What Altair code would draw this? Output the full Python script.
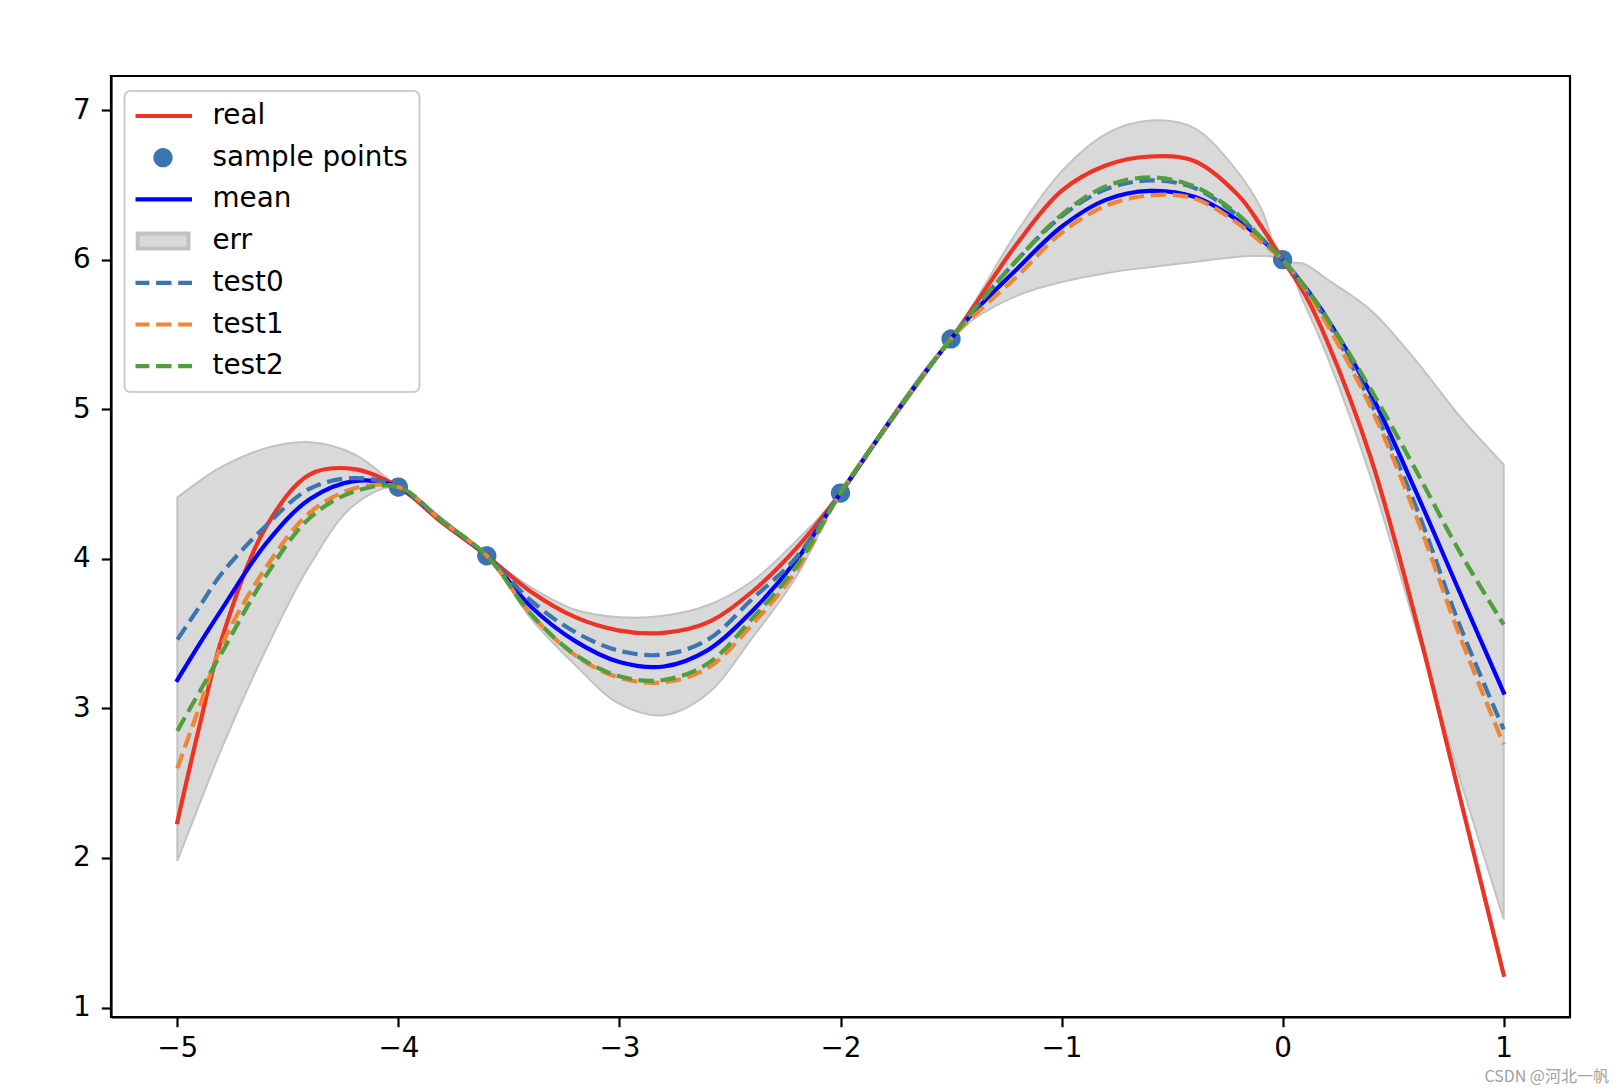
import altair as alt
import pandas as pd

# ---------------- data ----------------
xs = [-5.0, -4.9, -4.8, -4.6, -4.4, -4.2, -4.0, -3.8, -3.6, -3.4, -3.2, -3.0, -2.8, -2.6,
      -2.4, -2.2, -2.0, -1.8, -1.6, -1.5, -1.4, -1.2, -1.0, -0.8, -0.6, -0.4, -0.2, -0.1,
      0.0, 0.1, 0.2, 0.4, 0.6, 0.8, 1.0]
real = [2.24, 2.88, 3.46, 4.21, 4.565, 4.60, 4.48, 4.24, 4.02, 3.78, 3.61, 3.52, 3.505, 3.575,
        3.78, 4.07, 4.44, 4.87, 5.28, 5.47, 5.68, 6.11, 6.46, 6.63, 6.69, 6.66, 6.43, 6.23,
        6.00, 5.77, 5.46, 4.67, 3.61, 2.42, 1.22]
mean = [3.19, 3.43, 3.66, 4.10, 4.40, 4.52, 4.48, 4.25, 4.02, 3.68, 3.45, 3.31, 3.28, 3.39,
        3.65, 3.99, 4.44, 4.87, 5.28, 5.47, 5.645, 5.94, 6.22, 6.40, 6.46, 6.42, 6.26, 6.14,
        6.00, 5.82, 5.61, 5.10, 4.46, 3.78, 3.105]
test0 = [3.46, 3.68, 3.90, 4.22, 4.47, 4.54, 4.48, 4.25, 4.02, 3.72, 3.51, 3.385, 3.36, 3.46,
         3.73, 4.01, 4.44, 4.87, 5.28, 5.47, 5.66, 6.00, 6.29, 6.47, 6.53, 6.48, 6.29, 6.15,
         6.00, 5.81, 5.59, 5.04, 4.36, 3.56, 2.86]
test1 = [2.60, 3.01, 3.42, 3.94, 4.31, 4.47, 4.48, 4.25, 4.02, 3.63, 3.355, 3.205, 3.175, 3.27,
         3.56, 3.92, 4.44, 4.87, 5.28, 5.47, 5.62, 5.89, 6.18, 6.36, 6.43, 6.41, 6.24, 6.12,
         6.00, 5.81, 5.57, 5.01, 4.30, 3.49, 2.76]
test2 = [2.85, 3.11, 3.37, 3.885, 4.275, 4.45, 4.48, 4.25, 4.02, 3.63, 3.36, 3.215, 3.19, 3.30,
         3.60, 3.95, 4.44, 4.87, 5.28, 5.47, 5.66, 6.00, 6.30, 6.49, 6.55, 6.49, 6.30, 6.15,
         6.00, 5.82, 5.61, 5.13, 4.60, 4.05, 3.56]
err_upper = [4.41, 4.52, 4.615, 4.74, 4.78, 4.70, 4.48, 4.27, 4.02, 3.81, 3.66, 3.61, 3.62, 3.69,
             3.85, 4.12, 4.44, 4.89, 5.30, 5.47, 5.70, 6.19, 6.59, 6.84, 6.93, 6.88, 6.58, 6.35,
             6.00, 5.97, 5.87, 5.66, 5.33, 4.955, 4.63]
err_lower = [1.98, 2.36, 2.73, 3.39, 3.96, 4.36, 4.48, 4.23, 4.02, 3.60, 3.29, 3.03, 2.955, 3.10,
             3.47, 3.88, 4.44, 4.85, 5.26, 5.47, 5.60, 5.76, 5.85, 5.91, 5.95, 5.985, 6.02, 6.025,
             6.00, 5.70, 5.36, 4.54, 3.55, 2.54, 1.59]
sample_x = [-4.0, -3.6, -2.0, -1.5, 0.0]
sample_y = [4.48, 4.02, 4.44, 5.47, 6.00]

x_ticks = [-5, -4, -3, -2, -1, 0, 1]
y_ticks = [1, 2, 3, 4, 5, 6, 7]
legend_names = ["real", "sample points", "mean", "err", "test0", "test1", "test2"]

# ---------------- styles ----------------
C_RED = "#EE3224"
C_PTS = "#3A75AF"
C_MEAN = "#0000FF"
C_T0 = "#3A75AF"
C_T1 = "#EF8636"
C_T2 = "#519E3E"
C_ERR_FILL = "#D9D9D9"
C_ERR_EDGE = "#C2C2C2"
LW = 4.2
DASH = [15.4, 6.7]
FONT = "DejaVu Sans"
FS = 27.8
INTERP = "catmull-rom"

curves = pd.DataFrame({"x": xs, "real": real, "mean": mean, "test0": test0,
                       "test1": test1, "test2": test2,
                       "upper": err_upper, "lower": err_lower})
pts = pd.DataFrame({"x": sample_x, "y": sample_y,
                    "series": ["sample points"] * len(sample_x)})

xscale = alt.Scale(domain=[-5.3, 1.3], nice=False, zero=False)
yscale = alt.Scale(domain=[0.937, 7.228], nice=False, zero=False)
xaxis = alt.Axis(values=x_ticks, format="d", title=None, grid=False, labelFlush=False)
yaxis = alt.Axis(values=y_ticks, format="d", title=None, grid=False, labelFlush=False,
                 labelPadding=11)


def X():
    return alt.X("x:Q", scale=xscale, axis=xaxis)


def Y(field):
    return alt.Y(f"{field}:Q", scale=yscale, axis=yaxis)


base = alt.Chart(curves)

band = base.mark_area(fill=C_ERR_FILL, stroke=C_ERR_EDGE, strokeWidth=2.0,
                      interpolate=INTERP).encode(x=X(), y=Y("upper"), y2="lower:Q")


def line(field, color, dashed):
    kw = dict(color=color, strokeWidth=LW, interpolate=INTERP)
    if dashed:
        kw["strokeDash"] = DASH
        kw["strokeCap"] = "butt"
    else:
        kw["strokeCap"] = "square"
    return base.mark_line(**kw).encode(x=X(), y=Y(field))


# legend symbols (unit paths, scaled by symbol size)
P_LINE = "M-1,0L1,0"
P_CIRC = "M-0.26,0A0.26,0.26 0 1,0 0.26,0A0.26,0.26 0 1,0 -0.26,0Z"
P_RECT = "M-0.876,-0.255L0.876,-0.255L0.876,0.255L-0.876,0.255Z"
SYM = 3364

leg = alt.Legend(title=None, orient="none", legendX=13.5, legendY=15,
                 labelFont=FONT, labelFontSize=FS, labelColor="black", labelLimit=600,
                 symbolSize=SYM, symbolStrokeWidth=LW, clipHeight=28, symbolOffset=-4,
                 rowPadding=13.7, labelOffset=18, padding=11,
                 fillColor="rgba(255,255,255,0.8)", strokeColor="#CCCCCC",
                 cornerRadius=6, symbolLimit=0)

shape_range = [P_LINE, P_CIRC, P_LINE, P_RECT, P_LINE, P_LINE, P_LINE]
fill_range = ["transparent", C_PTS, "transparent", C_ERR_FILL,
              "transparent", "transparent", "transparent"]
stroke_range = [C_RED, C_PTS, C_MEAN, C_ERR_EDGE, C_T0, C_T1, C_T2]
dash_range = [[1, 0], [1, 0], [1, 0], [1, 0], DASH, DASH, DASH]

points = alt.Chart(pts).mark_point(filled=True, size=SYM, strokeWidth=LW, opacity=1).encode(
    x=X(), y=Y("y"),
    shape=alt.Shape("series:N", scale=alt.Scale(domain=legend_names, range=shape_range), legend=leg),
    fill=alt.Fill("series:N", scale=alt.Scale(domain=legend_names, range=fill_range), legend=leg),
    stroke=alt.Stroke("series:N", scale=alt.Scale(domain=legend_names, range=stroke_range), legend=leg),
    strokeDash=alt.StrokeDash("series:N", scale=alt.Scale(domain=legend_names, range=dash_range), legend=leg),
)

chart = alt.layer(
    band,
    points,
    line("real", C_RED, False),
    line("mean", C_MEAN, False),
    line("test0", C_T0, True),
    line("test1", C_T1, True),
    line("test2", C_T2, True),
).properties(
    width=1459, height=941,
    autosize=alt.AutoSizeParams(type="none"),
    padding={"left": 103, "top": 68, "right": 40, "bottom": 70},
    title=alt.TitleParams("CSDN @河北一帆", orient="bottom", anchor="end",
                          font="Noto Sans CJK SC", fontSize=16, fontWeight="normal",
                          color="#A0A0A0", dx=39, offset=6),
).configure_axis(
    domainColor="black", domainWidth=2.2, tickColor="black", tickWidth=2.2, tickSize=9.7,
    labelFont=FONT, labelFontSize=FS, labelColor="black", labelPadding=8,
).configure_view(
    stroke="black", strokeWidth=2.2
).configure_legend(
    strokeWidth=2
)

chart.save("out.html", embed_options={"renderer": "svg", "actions": False})
